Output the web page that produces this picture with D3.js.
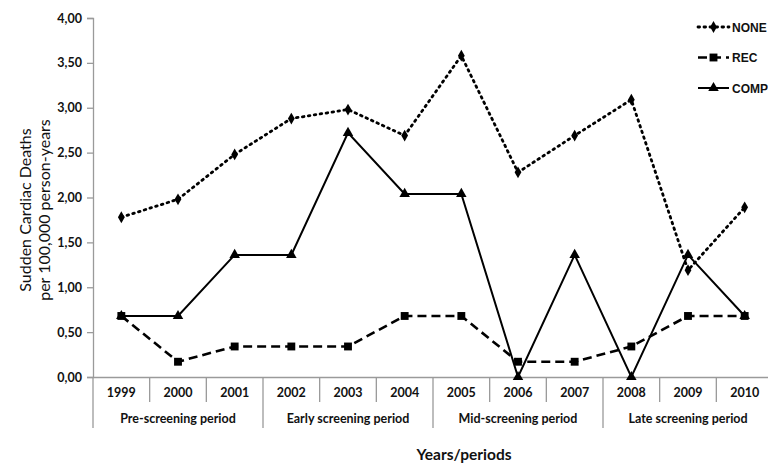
<!DOCTYPE html>
<html>
<head>
<meta charset="utf-8">
<script src="https://cdn.jsdelivr.net/npm/d3@7"></script>
<style>
  html, body { margin: 0; padding: 0; background: #fff; }
  svg { display: block; }
  text { font-family: Lato, "Open Sans", sans-serif; fill: #111; }
</style>
</head>
<body>
<svg id="chart" width="768" height="464"></svg>
<script>
// Sudden cardiac deaths per 100,000 person-years, by year and screening status
const years = ["1999","2000","2001","2002","2003","2004","2005","2006","2007","2008","2009","2010"];
const periods = ["Pre-screening period","Early screening period","Mid-screening period","Late screening period"];
const noneValues = [1.78, 1.98, 2.48, 2.88, 2.98, 2.69, 3.58, 2.28, 2.69, 3.09, 1.19, 1.89];
const recValues  = [0.68, 0.17, 0.34, 0.34, 0.34, 0.68, 0.68, 0.17, 0.17, 0.34, 0.68, 0.68];
const compValues = [0.68, 0.68, 1.36, 1.36, 2.72, 2.04, 2.04, 0.00, 1.36, 0.00, 1.36, 0.68];
const yTicks = [0, 0.5, 1, 1.5, 2, 2.5, 3, 3.5, 4];

const series = [
  { name: "NONE", values: noneValues, dash: "1.6,4.4", width: 2.8, cap: "round", marker: "diamond" },
  { name: "REC",  values: recValues,  dash: "9,5",     width: 2.6, cap: "butt",  marker: "square" },
  { name: "COMP", values: compValues, dash: null,      width: 2,   cap: "butt",  marker: "triangle" }
];

const svg = d3.select("#chart");
const x = d3.scaleBand().domain(years).range([93, 773]).padding(0);
const y = d3.scaleLinear().domain([0, 4]).range([377, 18]);
const fmt = d3.formatLocale({ decimal: ",", thousands: ".", grouping: [3], currency: ["", ""] }).format(".2f");
const axisColor = "#9a9a9a";

// Y axis
const yAxis = svg.append("g").attr("transform", "translate(93,0)")
  .call(d3.axisLeft(y).tickValues(yTicks).tickFormat(fmt).tickSize(6).tickPadding(5));
yAxis.select(".domain").attr("stroke", axisColor).attr("stroke-width", 1.3);
yAxis.selectAll(".tick line").attr("stroke", axisColor).attr("stroke-width", 1.3);
yAxis.selectAll(".tick text")
  .style("font-family", "Lato, sans-serif").style("font-size", "12.5px").style("font-weight", "bold").attr("fill", "#111");

// X axis baseline and category separators
const xAxis = svg.append("g").attr("transform", "translate(0,377)")
  .call(d3.axisBottom(x).tickSize(0).tickPadding(11));
xAxis.select(".domain").attr("stroke", axisColor).attr("stroke-width", 1.3);
xAxis.selectAll(".tick text")
  .style("font-family", "Lato, sans-serif").style("font-size", "12.5px").style("font-weight", "bold").attr("fill", "#111");

const bounds = years.map(d => x(d)).concat([x.range()[1]]);
svg.append("g").selectAll("line").data(bounds).join("line")
  .attr("x1", d => d).attr("x2", d => d)
  .attr("y1", 377)
  .attr("y2", (d, i) => (i % 3 === 0) ? 428 : 402)
  .attr("stroke", axisColor).attr("stroke-width", 1.3);

// Period labels under each group of three years
svg.append("g").selectAll("text").data(periods).join("text")
  .attr("x", (d, i) => (bounds[i * 3] + bounds[i * 3 + 3]) / 2)
  .attr("y", 423)
  .attr("text-anchor", "middle")
  .style("font-size", "12.5px").style("font-weight", "bold")
  .text(d => d);

// Axis titles
svg.append("text")
  .attr("x", 464).attr("y", 460)
  .attr("text-anchor", "middle")
  .style("font-size", "15.5px").style("font-weight", "bold")
  .text("Years/periods");

const yTitle = svg.append("text")
  .attr("transform", "translate(31,210) rotate(-90)")
  .attr("text-anchor", "middle")
  .style("font-size", "16px");
yTitle.append("tspan").attr("x", 0).attr("dy", 0).text("Sudden Cardiac Deaths");
yTitle.append("tspan").attr("x", 0).attr("dy", 19).text("per 100,000 person-years");

// Marker shapes
const symbolFor = {
  diamond: d3.symbol().type(d3.symbolDiamond).size(40),
  square: d3.symbol().type(d3.symbolSquare).size(62),
  triangle: d3.symbol().type(d3.symbolTriangle).size(48)
};

const line = d3.line()
  .x((d, i) => x(years[i]) + x.bandwidth() / 2)
  .y(d => y(d));

series.forEach(s => {
  const g = svg.append("g");
  g.append("path")
    .datum(s.values)
    .attr("d", line)
    .attr("fill", "none")
    .attr("stroke", "#000")
    .attr("stroke-width", s.width)
    .attr("stroke-linecap", s.cap)
    .attr("stroke-dasharray", s.dash);
  g.selectAll("path.mk").data(s.values).join("path")
    .attr("class", "mk")
    .attr("d", symbolFor[s.marker])
    .attr("transform", (d, i) => `translate(${x(years[i]) + x.bandwidth() / 2},${y(d)})`)
    .attr("fill", "#000");
});

// Legend
const legend = svg.append("g");
series.forEach((s, i) => {
  const ly = 27 + i * 30.5;
  legend.append("line")
    .attr("x1", 698).attr("x2", 729).attr("y1", ly).attr("y2", ly)
    .attr("stroke", "#000").attr("stroke-width", s.width)
    .attr("stroke-linecap", s.cap)
    .attr("stroke-dasharray", s.dash);
  legend.append("path")
    .attr("d", symbolFor[s.marker])
    .attr("transform", `translate(713.5,${ly})`)
    .attr("fill", "#000");
  legend.append("text")
    .attr("x", 732).attr("y", ly + 4.5)
    .style("font-family", "'Liberation Sans', Arial, sans-serif")
    .style("font-size", "12px").style("font-weight", "bold")
    .text(s.name);
});
</script>
</body>
</html>
